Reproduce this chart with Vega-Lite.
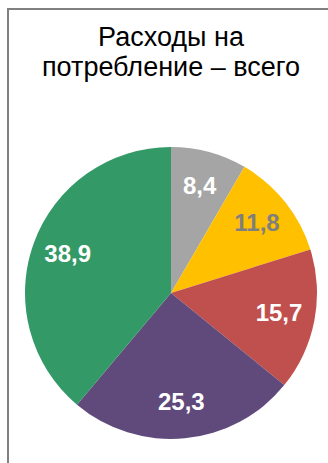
{
  "$schema": "https://vega.github.io/schema/vega-lite/v6.json",
  "autosize": "none",
  "width": 326,
  "height": 568,
  "padding": {"left": 8, "top": 9, "right": 0, "bottom": 0},
  "background": "white",
  "view": {"stroke": "#808080", "strokeWidth": 2, "fill": "white"},
  "config": {
    "locale": {"number": {"decimal": ",", "thousands": " ", "grouping": [3], "currency": ["", ""]}}
  },
  "title": {
    "text": ["Расходы на", "потребление – всего"],
    "frame": "group",
    "anchor": "middle",
    "orient": "top",
    "offset": -73,
    "fontSize": 27,
    "font": "Liberation Sans",
    "fontWeight": "normal",
    "color": "#000000",
    "lineHeight": 30
  },
  "data": {
    "values": [
      {"idx": 1, "cat": "A", "value": 8.4},
      {"idx": 2, "cat": "B", "value": 11.8},
      {"idx": 3, "cat": "C", "value": 15.7},
      {"idx": 4, "cat": "D", "value": 25.3},
      {"idx": 5, "cat": "E", "value": 38.9}
    ]
  },
  "layer": [
    {
      "mark": {"type": "arc", "outerRadius": 146},
      "encoding": {
        "theta": {"field": "value", "type": "quantitative", "stack": true},
        "order": {"field": "idx", "type": "quantitative"},
        "color": {
          "field": "cat", "type": "nominal", "legend": null,
          "scale": {"domain": ["A", "B", "C", "D", "E"], "range": ["#A5A5A5", "#FFC000", "#C0504D", "#604A7B", "#339966"]}
        }
      }
    },
    {
      "mark": {"type": "text", "radius": 110, "font": "Liberation Sans", "fontSize": 24, "fontWeight": "bold"},
      "encoding": {
        "theta": {"field": "value", "type": "quantitative", "stack": true},
        "order": {"field": "idx", "type": "quantitative"},
        "text": {"field": "value", "type": "quantitative", "format": ".1f"},
        "color": {
          "field": "cat", "type": "nominal", "legend": null,
          "scale": {"domain": ["A", "B", "C", "D", "E"], "range": ["#FFFFFF", "#7F7F7F", "#FFFFFF", "#FFFFFF", "#FFFFFF"]}
        }
      }
    }
  ],
  "resolve": {"scale": {"color": "independent"}}
}
